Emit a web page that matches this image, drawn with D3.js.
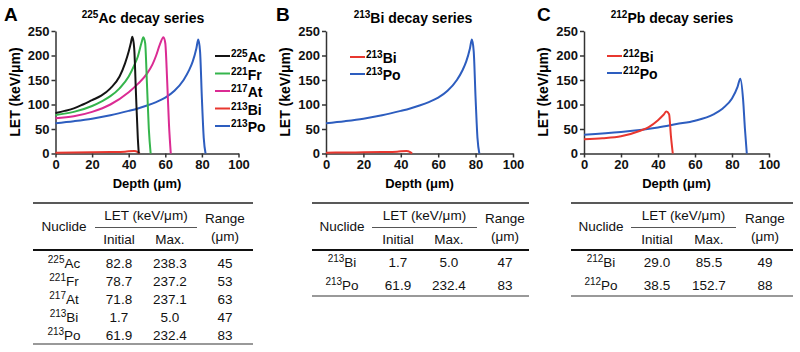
<!DOCTYPE html>
<html>
<head>
<meta charset="utf-8">
<script src="https://cdn.jsdelivr.net/npm/d3@7"></script>
<style>
  body { margin: 0; background: #fff; }
  svg { font-family: "Liberation Sans", Arial, sans-serif; }
  .axis path, .axis line { stroke: #333; stroke-width: 1.5px; }
  .axis text { font-size: 13px; font-weight: bold; fill: #111; }
</style>
</head>
<body>
<svg id="chart" width="800" height="352"></svg>
<script>
// depth (um) vs LET (keV/um)
var ac225 = [[0, 82.8], [5, 87], [10, 92], [15, 100], [20, 109], [25, 118], [30, 133], [35, 157], [38, 184], [40, 208], [41.2, 226], [42, 238.3], [43, 215], [44, 120], [45, 30], [45.5, 0]]
var fr221 = [[0, 78.7], [10, 85], [20, 97], [25, 106], [30, 117], [35, 133], [40, 157], [43, 180], [45, 198], [47, 226], [48, 237.2], [49, 225], [50, 140], [51, 50], [52, 0]]
var at217 = [[0, 71.8], [10, 76], [20, 85], [30, 100], [40, 125], [45, 142], [50, 163], [53, 182], [55, 200], [57, 222], [59, 237.1], [60, 225], [61, 150], [62, 60], [63, 0]]
var bi213 = [[0, 1.7], [10, 2.0], [20, 2.4], [30, 3.0], [38, 3.8], [43, 5.0], [45, 3.0], [46, 0]]
var po213 = [[0, 61.9], [10, 66], [20, 71], [30, 78], [40, 87], [45, 92], [50, 98], [55, 105], [60, 114], [65, 128], [70, 150], [73, 170], [75, 188], [77, 215], [78, 232.4], [79, 208], [80, 112], [81, 32], [82, 0]]
var bi212 = [[0, 29.0], [10, 31], [20, 35], [30, 46], [35, 54], [40, 68], [43, 79], [44.5, 85.5], [46, 80], [47, 35], [48, 0]]
var po212 = [[0, 38.5], [20, 44], [40, 53], [50, 60], [60, 67], [70, 80], [75, 92], [80, 112], [83, 136], [84.5, 152.7], [86, 110], [87, 50], [88, 0]]

var xTicks = [0, 20, 40, 60, 80, 100]
var yTicks = [0, 50, 100, 150, 200, 250]

// table values
var nuclidesA = [["225", "Ac"], ["221", "Fr"], ["217", "At"], ["213", "Bi"], ["213", "Po"]]
var initialA = ["82.8", "78.7", "71.8", "1.7", "61.9"]
var maxA = ["238.3", "237.2", "237.1", "5.0", "232.4"]
var rangeA = ["45", "53", "63", "47", "83"]
var nuclidesB = [["213", "Bi"], ["213", "Po"]]
var initialB = ["1.7", "61.9"]
var maxB = ["5.0", "232.4"]
var rangeB = ["47", "83"]
var nuclidesC = [["212", "Bi"], ["212", "Po"]]
var initialC = ["29.0", "38.5"]
var maxC = ["85.5", "152.7"]
var rangeC = ["49", "88"]

var colors = { black: "#141414", green: "#35b54c", magenta: "#db2b93", red: "#e8372f", blue: "#2d5dbf" }

var svg = d3.select("#chart")

function supText(sel, sup, main, supSize) {
    sel.append("tspan").attr("font-size", supSize).attr("dy", -5).text(sup)
    sel.append("tspan").attr("dy", 5).text(main)
}

function drawPanel(p) {
    var g = svg.append("g")
    var x = d3.scaleLinear().domain([0, 100]).range([p.x0, p.x1])
    var y = d3.scaleLinear().domain([0, 250]).range([153.5, 31])

    g.append("g").attr("class", "axis")
        .attr("transform", "translate(0,153.5)")
        .call(d3.axisBottom(x).tickValues(xTicks).tickSize(4).tickSizeOuter(0).tickPadding(2))
    g.append("g").attr("class", "axis")
        .attr("transform", "translate(" + p.x0 + ",0)")
        .call(d3.axisLeft(y).tickValues(yTicks).tickSize(4).tickSizeOuter(0).tickPadding(2))

    // panel letter and title
    g.append("text").attr("x", p.letterX).attr("y", 21)
        .attr("font-size", 19).attr("font-weight", "bold").text(p.letter)
    var t = g.append("text").attr("x", p.titleX).attr("y", 23)
        .attr("text-anchor", "middle").attr("font-size", 14).attr("font-weight", "bold")
    supText(t, p.titleSup, p.titleMain + " decay series", 10)

    g.append("text")
        .attr("transform", "translate(" + (p.x0 - 36) + ",92) rotate(-90)")
        .attr("text-anchor", "middle").attr("font-size", 14).attr("font-weight", "bold")
        .text("LET (keV/μm)")
    g.append("text").attr("x", (p.x0 + p.x1) / 2).attr("y", 188)
        .attr("text-anchor", "middle").attr("font-size", 13).attr("font-weight", "bold")
        .text("Depth (μm)")

    var line = d3.line().x(function (d) { return x(d[0]) }).y(function (d) { return y(d[1]) })
        .curve(d3.curveMonotoneX)

    p.series.slice().reverse().forEach(function (s) {
        g.append("path").datum(s.data)
            .attr("fill", "none").attr("stroke", s.color).attr("stroke-width", 2)
            .attr("stroke-linejoin", "round")
            .attr("d", line)
    })

    // legend
    p.series.forEach(function (s, i) {
        var ly = p.legendY + i * p.legendStep
        g.append("line").attr("x1", p.legendX).attr("x2", p.legendX + 15)
            .attr("y1", ly).attr("y2", ly).attr("stroke", s.color).attr("stroke-width", 2)
        var lt = g.append("text").attr("x", p.legendX + 16).attr("y", ly + 6)
            .attr("font-size", 14).attr("font-weight", "bold")
        supText(lt, s.sup, s.name, 10)
    })
}

function drawTable(tb) {
    var g = svg.append("g").attr("font-size", 13.5).attr("fill", "#111")
    var n = tb.nuclides.length
    var bottom = tb.rowY0 + (n - 1) * tb.rowStep + tb.bottomGap

    g.append("line").attr("x1", tb.left).attr("x2", tb.right).attr("y1", 203).attr("y2", 203)
        .attr("stroke", "#222").attr("stroke-width", 1.6)
    g.append("line").attr("x1", tb.subL).attr("x2", tb.subR).attr("y1", 227.5).attr("y2", 227.5)
        .attr("stroke", "#555").attr("stroke-width", 1.2)
    g.append("line").attr("x1", tb.left).attr("x2", tb.right).attr("y1", 250).attr("y2", 250)
        .attr("stroke", "#111").attr("stroke-width", 2.2)
    g.append("line").attr("x1", tb.left).attr("x2", tb.right).attr("y1", bottom).attr("y2", bottom)
        .attr("stroke", "#777").attr("stroke-width", 1.6)

    g.append("text").attr("x", tb.cNuc).attr("y", 231).attr("text-anchor", "middle").text("Nuclide")
    g.append("text").attr("x", (tb.subL + tb.subR) / 2).attr("y", 220).attr("text-anchor", "middle").text("LET (keV/μm)")
    g.append("text").attr("x", tb.cIni).attr("y", 244).attr("text-anchor", "middle").text("Initial")
    g.append("text").attr("x", tb.cMax).attr("y", 244).attr("text-anchor", "middle").text("Max.")
    g.append("text").attr("x", tb.cRng).attr("y", 223).attr("text-anchor", "middle").text("Range")
    g.append("text").attr("x", tb.cRng).attr("y", 241).attr("text-anchor", "middle").text("(μm)")

    tb.nuclides.forEach(function (nu, i) {
        var ry = tb.rowY0 + i * tb.rowStep + 5
        var nt = g.append("text").attr("x", tb.cNuc).attr("y", ry).attr("text-anchor", "middle")
        supText(nt, nu[0], nu[1], 10)
        g.append("text").attr("x", tb.cIni).attr("y", ry).attr("text-anchor", "middle").text(tb.initial[i])
        g.append("text").attr("x", tb.cMax).attr("y", ry).attr("text-anchor", "middle").text(tb.max[i])
        g.append("text").attr("x", tb.cRng).attr("y", ry).attr("text-anchor", "middle").text(tb.range[i])
    })
}

drawPanel({
    x0: 55.5, x1: 238.5, letter: "A", letterX: 4, titleX: 143, titleSup: "225", titleMain: "Ac",
    legendX: 215, legendY: 56, legendStep: 17.5,
    series: [
        { sup: "225", name: "Ac", color: colors.black, data: ac225 },
        { sup: "221", name: "Fr", color: colors.green, data: fr221 },
        { sup: "217", name: "At", color: colors.magenta, data: at217 },
        { sup: "213", name: "Bi", color: colors.red, data: bi213 },
        { sup: "213", name: "Po", color: colors.blue, data: po213 }
    ]
})
drawPanel({
    x0: 326, x1: 513, letter: "B", letterX: 276, titleX: 413, titleSup: "213", titleMain: "Bi",
    legendX: 350, legendY: 57, legendStep: 17,
    series: [
        { sup: "213", name: "Bi", color: colors.red, data: bi213 },
        { sup: "213", name: "Po", color: colors.blue, data: po213 }
    ]
})
drawPanel({
    x0: 584, x1: 769, letter: "C", letterX: 537, titleX: 672, titleSup: "212", titleMain: "Pb",
    legendX: 607, legendY: 56, legendStep: 17,
    series: [
        { sup: "212", name: "Bi", color: colors.red, data: bi212 },
        { sup: "212", name: "Po", color: colors.blue, data: po212 }
    ]
})

drawTable({
    left: 33, right: 253, subL: 95, subR: 197, cNuc: 64, cIni: 119, cMax: 170, cRng: 225,
    rowY0: 263, rowStep: 18, bottomGap: 9,
    nuclides: nuclidesA, initial: initialA, max: maxA, range: rangeA
})
drawTable({
    left: 312, right: 529, subL: 372, subR: 477, cNuc: 342, cIni: 398, cMax: 449, cRng: 505,
    rowY0: 262, rowStep: 23, bottomGap: 11,
    nuclides: nuclidesB, initial: initialB, max: maxB, range: rangeB
})
drawTable({
    left: 571, right: 793, subL: 631, subR: 736, cNuc: 601, cIni: 657, cMax: 709, cRng: 765,
    rowY0: 262, rowStep: 23, bottomGap: 11,
    nuclides: nuclidesC, initial: initialC, max: maxC, range: rangeC
})
</script>
</body>
</html>
